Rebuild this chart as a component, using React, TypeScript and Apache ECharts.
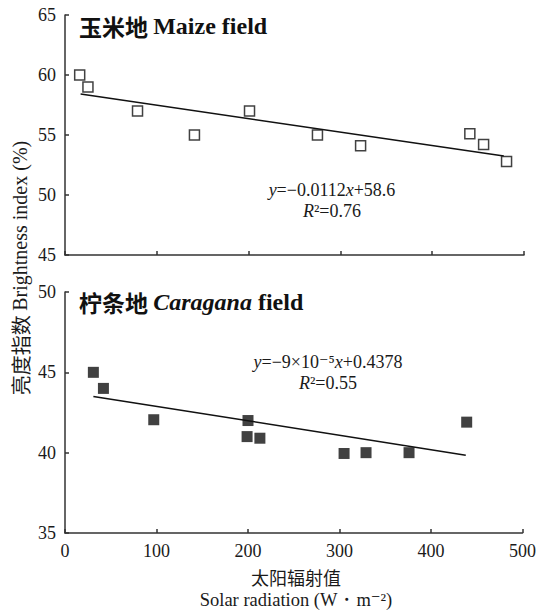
import React, { useEffect, useRef } from "react";
import * as echarts from "echarts";

// Maize field (open squares)
const maizeX = [16, 25, 79, 141, 201, 275, 322, 441, 456, 481];
const maizeY = [60, 59, 57, 55, 57, 55, 54.1, 55.1, 54.2, 52.8];
const maizeTrend = [[17, 58.41], [478, 53.25]];

// Caragana field (filled squares)
const caraX = [31, 42, 97, 200, 199, 213, 305, 329, 376, 439];
const caraY = [45, 44, 42.05, 42, 41, 40.9, 39.95, 40, 40, 41.9];
const caraTrend = [[31, 43.5], [438, 39.84]];

const xTicks = [0, 100, 200, 300, 400, 500];
const topYTicks = [45, 50, 55, 60, 65];
const botYTicks = [35, 40, 45, 50];

const SERIF = '"Liberation Serif", "DejaVu Serif", serif';
const CJK = '"Noto Sans CJK SC", sans-serif';
const AX = "#333";
const TXT = "#1a1a1a";

export default function App() {
  const ref = useRef<HTMLDivElement>(null);
  useEffect(() => {
    if (!ref.current) return;
    const chart = echarts.init(ref.current, undefined, { renderer: "svg" });
    const axisLine = { show: true, lineStyle: { color: AX, width: 1.5 } };
    const axisTick = { show: true, inside: true, length: 4, lineStyle: { color: AX, width: 1.5 } };
    const axisLabel = { color: TXT, fontSize: 18, fontFamily: SERIF };
    const option: any = {
      animation: false,
      backgroundColor: "#fff",
      textStyle: { fontFamily: SERIF },
      grid: [
        { left: 65, top: 15, width: 459, height: 240 },
        { left: 65, top: 292, width: 459, height: 241 },
      ],
      xAxis: [
        {
          gridIndex: 0, type: "value", min: xTicks[0], max: xTicks[xTicks.length - 1], interval: 100,
          axisLine, axisTick, axisLabel: { show: false }, splitLine: { show: false },
        },
        {
          gridIndex: 1, type: "value", min: xTicks[0], max: xTicks[xTicks.length - 1], interval: 100,
          axisLine, axisTick, axisLabel: { ...axisLabel, margin: 9 }, splitLine: { show: false },
        },
      ],
      yAxis: [
        {
          gridIndex: 0, type: "value", min: topYTicks[0], max: topYTicks[topYTicks.length - 1], interval: 5,
          axisLine, axisTick, axisLabel: { ...axisLabel, margin: 9 }, splitLine: { show: false },
        },
        {
          gridIndex: 1, type: "value", min: botYTicks[0], max: botYTicks[botYTicks.length - 1], interval: 5,
          axisLine, axisTick, axisLabel: { ...axisLabel, margin: 9 }, splitLine: { show: false },
        },
      ],
      series: [
        {
          type: "line", xAxisIndex: 0, yAxisIndex: 0, data: maizeTrend, symbol: "none",
          lineStyle: { color: "#111", width: 1.5 }, z: 1,
        },
        {
          type: "scatter", xAxisIndex: 0, yAxisIndex: 0, symbol: "rect", symbolSize: 10,
          data: maizeX.map((x, i) => [x, maizeY[i]]),
          itemStyle: { color: "#fff", borderColor: "#111", borderWidth: 1.5 }, z: 3,
        },
        {
          type: "line", xAxisIndex: 1, yAxisIndex: 1, data: caraTrend, symbol: "none",
          lineStyle: { color: "#111", width: 1.5 }, z: 1,
        },
        {
          type: "scatter", xAxisIndex: 1, yAxisIndex: 1, symbol: "rect", symbolSize: 11,
          data: caraX.map((x, i) => [x, caraY[i]]),
          itemStyle: { color: "#111" }, z: 3,
        },
      ],
      graphic: [
        {
          type: "text", left: 79, top: 14,
          style: {
            text: "{c|玉米地 }{e|Maize field}",
            rich: {
              c: { fontFamily: CJK, fontWeight: "bold", fontSize: 23, fill: "#111" },
              e: { fontFamily: SERIF, fontWeight: "bold", fontSize: 24, fill: "#111" },
            },
          },
        },
        {
          type: "text", left: 79, top: 290,
          style: {
            text: "{c|柠条地 }{i|Caragana }{e|field}",
            rich: {
              c: { fontFamily: CJK, fontWeight: "bold", fontSize: 23, fill: "#111" },
              i: { fontFamily: SERIF, fontWeight: "bold", fontStyle: "italic", fontSize: 24, fill: "#111" },
              e: { fontFamily: SERIF, fontWeight: "bold", fontSize: 24, fill: "#111" },
            },
          },
        },
        {
          type: "text", x: 332, y: 200,
          style: {
            text: "{i|y}{n|=−0.0112}{i|x}{n|+58.6}\n{i|R}{n|²=0.76}",
            align: "center", verticalAlign: "middle", lineHeight: 21,
            rich: {
              i: { fontFamily: SERIF, fontStyle: "italic", fontSize: 18, fill: TXT, lineHeight: 21 },
              n: { fontFamily: SERIF, fontSize: 18, fill: TXT, lineHeight: 21 },
            },
          },
        },
        {
          type: "text", x: 328, y: 372,
          style: {
            text: "{i|y}{n|=−9×10⁻⁵}{i|x}{n|+0.4378}\n{i|R}{n|²=0.55}",
            align: "center", verticalAlign: "middle", lineHeight: 21,
            rich: {
              i: { fontFamily: SERIF, fontStyle: "italic", fontSize: 18, fill: TXT, lineHeight: 21 },
              n: { fontFamily: SERIF, fontSize: 18, fill: TXT, lineHeight: 21 },
            },
          },
        },
        {
          type: "text", x: 20, y: 268, rotation: Math.PI / 2,
          style: {
            text: "{c|亮度指数 }{e|Brightness index (%)}",
            align: "center", verticalAlign: "middle",
            rich: {
              c: { fontFamily: CJK, fontSize: 20, fill: TXT },
              e: { fontFamily: SERIF, fontSize: 20, fill: TXT },
            },
          },
        },
        {
          type: "text", x: 296, y: 577,
          style: {
            text: "太阳辐射值", align: "center", verticalAlign: "middle",
            fontFamily: CJK, fontSize: 18, fill: TXT,
          },
        },
        {
          type: "text", x: 296, y: 600,
          style: {
            text: "Solar radiation (W・m⁻²)", align: "center", verticalAlign: "middle",
            fontFamily: SERIF, fontSize: 18.5, fill: TXT,
          },
        },
      ],
    };
    chart.setOption(option);
    return () => chart.dispose();
  }, []);
  return (
    <div
      ref={ref}
      style={{ position: "absolute", left: 0, top: 0, width: 539, height: 612, background: "#fff" }}
    />
  );
}
